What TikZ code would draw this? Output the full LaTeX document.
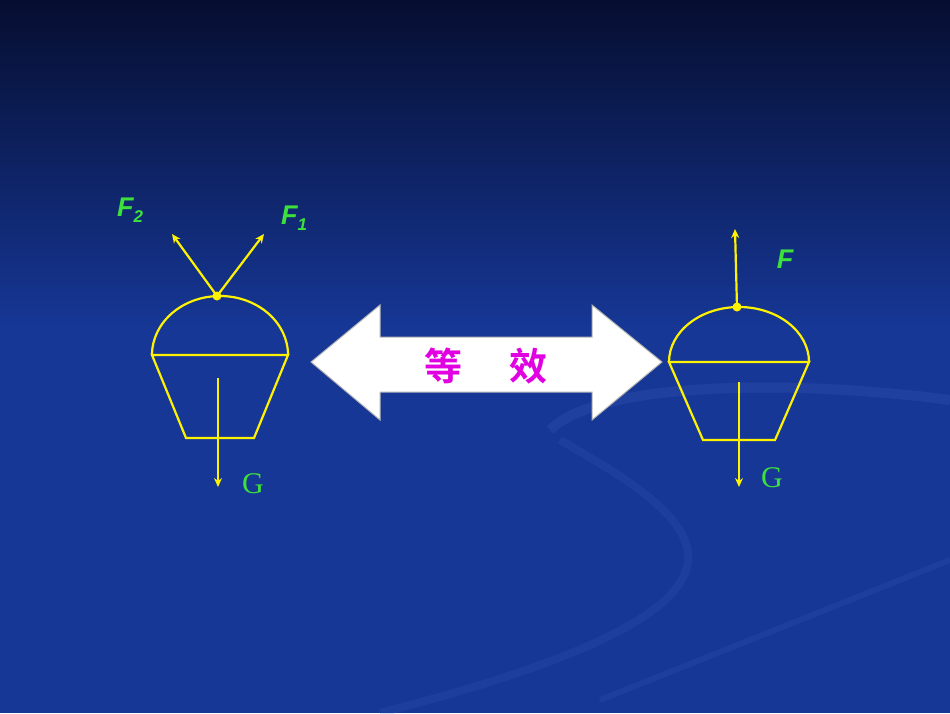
\documentclass[tikz,border=0pt]{standalone}
\usetikzlibrary{arrows.meta}
\usepackage{fontspec}
\setmainfont{Liberation Sans}
\newfontfamily\cjk{Noto Sans CJK SC}[BoldFont={Noto Sans CJK SC Bold}]
\newfontfamily\gser{Liberation Serif}
\begin{document}
\begin{tikzpicture}[x=1pt,y=-1pt,
  ln/.style={draw=yellow,line width=2.2pt},
  arr/.style={ln,-{Stealth[length=9pt,width=8pt]}},
  flab/.style={text=gl,font=\bfseries\itshape\fontsize{27}{27}\selectfont},
  glab/.style={text=gl,font=\gser\fontsize{30}{30}\selectfont},
  cn/.style={text=mg,font=\cjk\bfseries\fontsize{38}{38}\selectfont}]
\definecolor{bgtop}{RGB}{6,14,48}
\definecolor{bgmid}{RGB}{22,55,150}
\definecolor{bgbot}{RGB}{26,62,160}
\definecolor{gl}{RGB}{60,225,60}
\definecolor{mg}{RGB}{225,0,225}
\useasboundingbox (0,0) rectangle (950,713);
\fill[top color=bgtop,bottom color=bgmid] (0,0) rectangle (950,330);
\fill[bgmid] (0,329) rectangle (950,713);
% faint swirls
\draw[bgbot!80!white!90!blue,opacity=0.25,line width=10pt] (550,430) .. controls (600,380) and (800,380) .. (950,400);
\draw[bgbot!80!white!90!blue,opacity=0.2,line width=8pt] (560,440) .. controls (700,520) and (820,600) .. (380,713);
\draw[bgbot!80!white!90!blue,opacity=0.2,line width=6pt] (600,700) .. controls (750,640) and (850,600) .. (950,560);
% left bucket
\coordinate (L1) at (152,355); \coordinate (L2) at (288,355);
\draw[ln] (L1) arc[start angle=180,end angle=360,x radius=68,y radius=59];
\draw[ln] (L1) -- (L2) -- (254,438) -- (186,438) -- cycle;
\coordinate (LD) at (217,296);
\fill[yellow] (LD) circle (4.5);
\coordinate (LA) at (172,234); \coordinate (LB) at (264,234);
\draw[arr] (LD) -- (LA); \draw[arr] (LD) -- (LB);
\coordinate (LG0) at (218,378); \coordinate (LG) at (218,487);
\draw[arr] (LG0) -- (LG);
\node[flab] (f2) at (130,210) {F\raisebox{-0.4ex}{\fontsize{17}{17}\selectfont 2}};
\node[flab] (f1) at (294,218) {F\raisebox{-0.4ex}{\fontsize{17}{17}\selectfont 1}};
\node[glab] (g1) at (253,484) {G};
% right bucket
\coordinate (R1) at (669,362); \coordinate (R2) at (809,362);
\draw[ln] (R1) arc[start angle=180,end angle=360,x radius=70,y radius=55];
\draw[ln] (R1) -- (R2) -- (775,440) -- (703,440) -- cycle;
\coordinate (RD) at (737,307);
\fill[yellow] (RD) circle (4.5);
\coordinate (RA) at (735,229);
\draw[arr] (RD) -- (RA);
\coordinate (RG0) at (739,382); \coordinate (RG) at (739,487);
\draw[arr] (RG0) -- (RG);
\node[flab] (f) at (785,259) {F};
\node[glab] (g2) at (772,478) {G};
% double arrow
\draw[fill=white,draw=gray!60,line width=1pt] (311,362) -- (380,305) -- (380,337) -- (592,337) -- (592,305) -- (662,362) -- (592,420) -- (592,392) -- (380,392) -- (380,420) -- cycle;
\node[cn] (d1) at (443,366) {等};
\node[cn] (d2) at (528,366) {效};
\end{tikzpicture}
\end{document}
